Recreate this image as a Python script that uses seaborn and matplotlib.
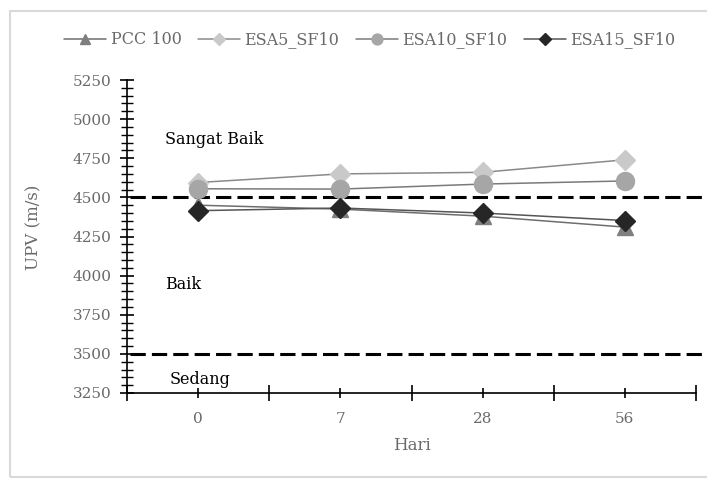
import matplotlib
matplotlib.use("Agg")
import matplotlib.pyplot as plt
import matplotlib.patches as mpatches
import matplotlib.transforms as mtransforms
import seaborn as sns
import pandas as pd

# === Data ===
hari = ["0", "7", "28", "56"]
pcc_100 = [4450, 4425, 4380, 4310]
esa5_sf10 = [4595, 4650, 4660, 4740]
esa10_sf10 = [4555, 4553, 4585, 4605]
esa15_sf10 = [4415, 4432, 4400, 4352]

batas_kelas = [4500, 3500]
label_kelas = ["Sangat Baik", "Baik", "Sedang"]
posisi_kelas = [4870, 3945, 3335]

y_ticks = [3250, 3500, 3750, 4000, 4250, 4500, 4750, 5000, 5250]

series = [
    ("PCC 100", pcc_100, "^", 11, "#6e6e6e", "#7f7f7f"),
    ("ESA5_SF10", esa5_sf10, "D", 10, "#8a8a8a", "#c9c9c9"),
    ("ESA10_SF10", esa10_sf10, "o", 13, "#7a7a7a", "#a6a6a6"),
    ("ESA15_SF10", esa15_sf10, "D", 10, "#555555", "#262626"),
]

# === Style ===
sns.set_theme(style="white")
plt.rcParams.update({
    "font.family": ["DejaVu Serif"],
    "font.size": 11.5,
    "axes.edgecolor": "black",
    "axes.linewidth": 1.2,
})
text_gray = "#6a6a6a"

fig = plt.figure(figsize=(7.07, 4.79), dpi=100)
ax = fig.add_axes([127 / 707, 1 - 393 / 479, (696 - 127) / 707, (393 - 80) / 479])

for name, vals, mk, ms, lc, mc in series:
    df = pd.DataFrame({"Hari": hari, "UPV": vals})
    sns.lineplot(
        data=df, x="Hari", y="UPV", ax=ax, sort=False, label=name,
        color=lc, linewidth=1.1, marker=mk, markersize=ms,
        markerfacecolor=mc, markeredgecolor=mc, markeredgewidth=1,
    )

# class boundaries (dashed)
trans = mtransforms.blended_transform_factory(ax.transAxes, ax.transData)
for b in batas_kelas:
    ax.plot([0.005, 1.03], [b, b], transform=trans, color="black",
            linewidth=2.2, dashes=(5, 2), clip_on=False, zorder=1)

for lab, yv in zip(label_kelas, posisi_kelas):
    ax.text(-0.23 if lab != "Sedang" else -0.2, yv, lab, fontsize=11.5,
            color="black", va="center", ha="left")

# axes
ax.set_xlim(-0.5, 3.5)
ax.set_ylim(3250, 5250)
ax.set_yticks(y_ticks)
ax.set_yticks(range(3250, 5251, 50), minor=True)
ax.set_xticks(range(len(hari)))
ax.set_xticklabels(hari)
ax.set_xticks([-0.5, 0.5, 1.5, 2.5, 3.5], minor=True)

ax.tick_params(axis="y", which="major", direction="inout", length=10, width=1.2,
               colors="black", labelcolor=text_gray, labelsize=11, pad=6, left=True)
ax.tick_params(axis="y", which="minor", direction="inout", length=8, width=1.0,
               colors="black", left=True)
ax.tick_params(axis="x", which="major", direction="inout", length=7, width=1.2,
               colors="black", labelcolor=text_gray, labelsize=11, pad=10, bottom=True)
ax.tick_params(axis="x", which="minor", direction="inout", length=12, width=1.2,
               colors="black", bottom=True)

ax.set_xlabel("Hari", color=text_gray, fontsize=12, labelpad=8)
ax.set_ylabel("UPV (m/s)", color=text_gray, fontsize=12)
ax.yaxis.set_label_coords(-0.148, 0.53)

sns.despine(ax=ax, top=True, right=True)

# legend
handles, labels = ax.get_legend_handles_labels()
ax.get_legend().remove()
fig.legend(handles, labels, loc="center", bbox_to_anchor=(370 / 707, 1 - 40 / 479),
           ncol=4, frameon=False, handlelength=2.6, handletextpad=0.3,
           columnspacing=1.05, markerscale=0.6, fontsize=11.5, labelcolor=text_gray)

# outer frame
fig.patches.append(mpatches.Rectangle(
    (10 / 707, 1 - 477 / 479), 1.0, (477 - 11) / 479, transform=fig.transFigure,
    fill=False, edgecolor="#d9d9d9", linewidth=1.5))

fig.savefig("out.png", dpi=100)
